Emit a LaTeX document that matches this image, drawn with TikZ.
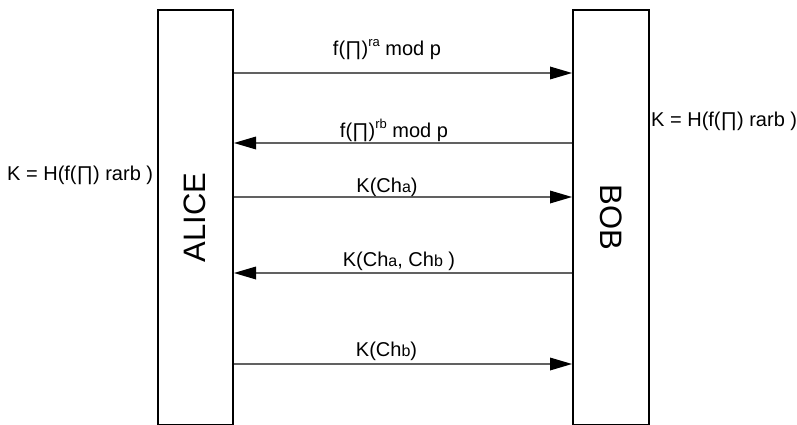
\documentclass[tikz,border=0pt]{standalone}
\usepackage{fontspec}
\setmainfont{Liberation Sans}
\usetikzlibrary{arrows.meta}
\newcommand{\smb}[1]{\raisebox{-0.8pt}{\fontsize{16}{16}\selectfont #1}}
\newcommand{\supr}[1]{\raisebox{0.45em}{\fontsize{13}{13}\selectfont #1}}
\begin{document}
\begin{tikzpicture}[x=1pt,y=-1pt,
  party/.style={draw=black,line width=2pt,minimum width=75.5pt,minimum height=414pt,inner sep=0pt,anchor=north west},
  msg/.style={draw=black!62,line width=1.4pt,-{Triangle[length=22pt,width=13pt,color=black,fill=black,line width=0pt]}},
  lbl/.style={anchor=base,inner sep=0pt,font=\fontsize{20}{24}\selectfont},
  actor/.style={font=\fontsize{31}{36}\selectfont,inner sep=0pt}]
\useasboundingbox (0,0) rectangle (797,425);
\node[party] (alice) at (156.5,9.5) {};
\node[party] (bob) at (572,9.5) {};
\node[actor,rotate=90] (an) at (alice.center) {ALICE};
\node[actor,rotate=-90] (bn) at (bob.center) {BOB};
% message levels
\foreach \n/\yy in {1/73,2/143,3/197,4/273,5/364}{
  \coordinate (a\n) at (alice.east |- 0,\yy);
  \coordinate (b\n) at (bob.west |- 0,\yy);
}
\draw[msg] (a1) -- (b1);
\draw[msg] (b2) -- (a2);
\draw[msg] (a3) -- (b3);
\draw[msg] (b4) -- (a4);
\draw[msg] (a5) -- (b5);
\node[lbl] (l1) at (387,56) {f(∏)\supr{ra} mod p};
\node[lbl] (l2) at (394,137) {f(∏)\supr{rb} mod p};
\node[lbl] (l3) at (387,192) {K(Ch\smb{a})};
\node[lbl] (l4) at (399,266) {K(Ch\smb{a}, Ch\smb{b} )};
\node[lbl] (l5) at (386.5,356) {K(Ch\smb{b})};
\node[lbl,anchor=base west] (kl) at (7,180) {K = H(f(∏) rarb )};
\node[lbl,anchor=base west] (kr) at (651,127) {K = H(f(∏) rarb )};
\end{tikzpicture}
\end{document}
